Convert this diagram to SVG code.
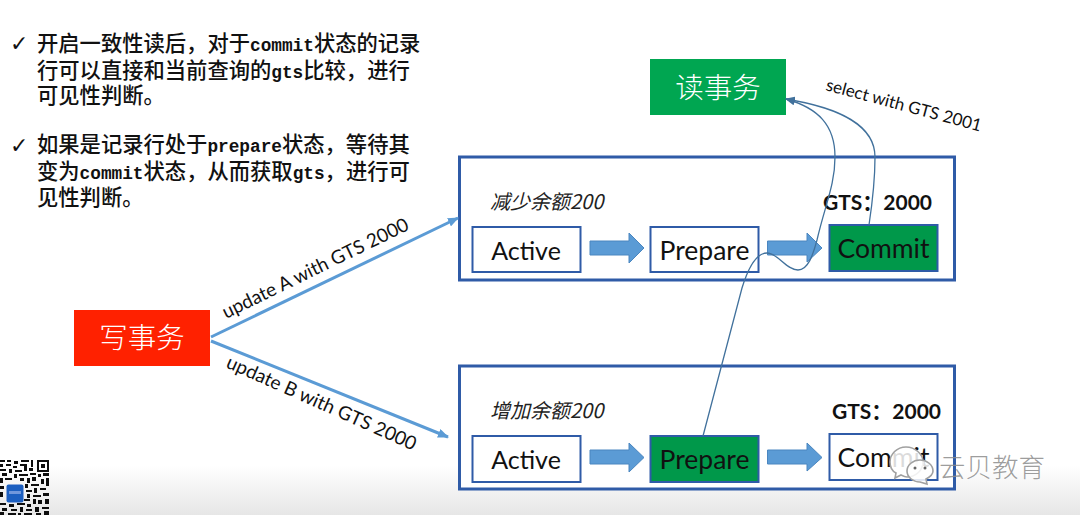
<svg xmlns="http://www.w3.org/2000/svg" width="1080" height="515" viewBox="0 0 1080 515">
<style>
.cn{font-family:"Noto Sans CJK SC",sans-serif;font-size:21.3px;font-weight:500;fill:#111}
.m{font-family:"Liberation Mono",monospace;font-size:17.75px;font-weight:700}
.big{font-family:"Noto Sans CJK SC",sans-serif;font-size:28.500px;fill:#fff;text-anchor:middle;font-weight:300}
.st{font-family:Lato,"Open Sans",sans-serif;font-size:26.5px;fill:#111;text-anchor:middle}
.lb{font-family:Lato,"Open Sans",sans-serif;font-size:19px;fill:#111}
.gts{font-family:Lato,"Noto Sans CJK SC",sans-serif;font-size:21px;font-weight:700;fill:#111}
.it{font-family:"Noto Sans CJK SC",sans-serif;font-size:20px;font-style:italic;fill:#222}
.ck{font-family:"DejaVu Sans",sans-serif;font-size:22px;fill:#111}
.frame{fill:#fff;stroke:#2f5ba7;stroke-width:3}
.box{fill:#fff;stroke:#2f5ba7;stroke-width:2}
.on{fill:#00984a;stroke:#2f5ba7;stroke-width:2}
.blk{fill:#5b9bd5;stroke:#4a86c0;stroke-width:1}
.ln{fill:none;stroke:#5b9bd5;stroke-width:3}
.thin{fill:none;stroke:#41719c;stroke-width:1.3}
.wm{fill:#fff;fill-opacity:.85;stroke:#a0a0a0;stroke-width:1.6}
</style>
<defs>
<linearGradient id="fade" x1="0" y1="0" x2="0" y2="1"><stop offset="0" stop-color="#fff"/><stop offset="1" stop-color="#e6e6e6"/></linearGradient>
<filter id="soft" x="-5%" y="-5%" width="110%" height="110%"><feGaussianBlur stdDeviation="0.5"/></filter>
<marker id="a1" markerWidth="11" markerHeight="9" refX="10" refY="4.500" orient="auto" markerUnits="userSpaceOnUse"><path d="M0 0L11 4.500L0 9Z" fill="#5b9bd5"/></marker>
<marker id="a2" markerWidth="10" markerHeight="8" refX="9" refY="4" orient="auto" markerUnits="userSpaceOnUse"><path d="M0 0L10 4L0 8Z" fill="#41719c"/></marker>
</defs>
<rect width="1080" height="515" fill="#fff"/>
<rect y="465" width="1080" height="50" fill="url(#fade)"/>

<g id="notes">
<text x="10" y="51" class="ck">✓</text>
<text x="37" y="51" class="cn">开启一致性读后，对于<tspan class="m">commit</tspan>状态的记录</text>
<text x="37" y="78" class="cn">行可以直接和当前查询的<tspan class="m">gts</tspan>比较，进行</text>
<text x="37" y="103" class="cn">可见性判断。</text>
<text x="10" y="153" class="ck">✓</text>
<text x="37" y="152" class="cn">如果是记录行处于<tspan class="m">prepare</tspan>状态，等待其</text>
<text x="37" y="179" class="cn">变为<tspan class="m">commit</tspan>状态，从而获取<tspan class="m">gts</tspan>，进行可</text>
<text x="37" y="205" class="cn">见性判断。</text>
</g>

<g id="frame-a"><rect x="459.500" y="157" width="495" height="123" class="frame"/></g>
<g id="frame-b"><rect x="459.500" y="366" width="495" height="123" class="frame"/></g>

<g id="read-tx"><rect x="650" y="59" width="136" height="56" fill="#00a651"/><text x="718" y="98" class="big">读事务</text></g>
<g id="write-tx"><rect x="74" y="310" width="136" height="56" fill="#ff2100"/><text x="142" y="348" class="big">写事务</text></g>

<g id="a-title"><text x="490" y="209" class="it">减少余额200</text><text x="823" y="210" class="gts">GTS：2000</text></g>
<g id="b-title"><text x="490" y="418" class="it">增加余额200</text><text x="832" y="419" class="gts">GTS：2000</text></g>

<g id="a-active"><rect x="472.500" y="227" width="108" height="45" class="box"/><text x="526" y="260" class="st" style="font-size:25px">Active</text></g>
<g id="a-prepare"><rect x="650.500" y="227" width="108" height="45" class="box"/><text x="704.500" y="260" class="st">Prepare</text></g>
<g id="a-commit"><rect x="829.500" y="225" width="108" height="46" class="on"/><text x="883.500" y="258" class="st">Commit</text></g>
<g id="b-active"><rect x="472.500" y="436" width="108" height="46" class="box"/><text x="526" y="469" class="st" style="font-size:25px">Active</text></g>
<g id="b-prepare"><rect x="650.500" y="436" width="108" height="46" class="on"/><text x="704.500" y="469" class="st">Prepare</text></g>
<g id="b-commit"><rect x="829.500" y="434" width="108" height="46" class="box"/><text x="883.500" y="467" class="st">Commit</text></g>

<g id="connectors">
<path class="blk" d="M590 241H629V233L644 248L629 263V255H590Z"/>
<path class="blk" d="M767.500 241H807V233L822 248L807 262V255H767.500Z"/>
<path class="blk" d="M590 450H629V443L644 457.500L629 472V464H590Z"/>
<path class="blk" d="M767.500 450H807V443L822 457.500L807 471V464H767.500Z"/>
<path class="ln" marker-end="url(#a1)" d="M211 337L458 218"/>
<path class="ln" marker-end="url(#a1)" d="M211 341L448 437"/>
<path class="thin" marker-end="url(#a2)" d="M703 436L742 288C750 262 758 253 767 253C778 253 786 270 798 270C808 270 813 255 817 240C825 205 835 185 835 157C835 125 818 108 786 99"/>
<path class="thin" marker-end="url(#a2)" d="M869 225C872 205 875 180 875 157C875 125 840 108 786 99"/>
</g>

<g id="edge-labels">
<text class="lb" transform="translate(226 319) rotate(-26)">update A with GTS 2000</text>
<text class="lb" transform="translate(225 367) rotate(24)">update B with GTS 2000</text>
<text class="lb" style="font-size:17px" transform="translate(825 90) rotate(15)">select with GTS 2001</text>
</g>

<g id="watermark">
<path class="wm" d="M906 447C897 447 890 454 890 462C890 467 892 471 896 473L895 478L901 475C903 476 905 477 907 477C916 477 923 470 923 462C923 454 915 447 906 447Z"/>
<path class="wm" d="M920 460C913 460 907 465 907 471C907 477 913 482 920 482L927 484L926 479C930 477 933 474 933 471C933 465 927 460 920 460Z"/>
<circle cx="915" cy="468" r="1.500" fill="#666"/><circle cx="925" cy="468" r="1.500" fill="#666"/>
<text x="939" y="477" font-family="Noto Sans CJK SC,sans-serif" font-size="26.500" font-weight="300" fill="#8c8c8c" fill-opacity=".85">云贝教育</text>
</g>

<g id="qr" filter="url(#soft)">
<path fill="#111" d="M0 460h5v2h-5zM7 460h4v2h-4zM14 461h4v3h-4zM21 460h8v2h-8zM31 460h2v7h-2zM0 464h3v3h-3zM6 464h5v2h-5zM13 466h4v2h-4zM20 464h7v2h-7zM24 466h3v5h-3zM29 468h4v3h-4zM0 469h6v2h-6zM9 469h3v4h-3zM15 470h7v2h-7zM2 473h5v3h-5zM14 474h3v4h-3zM19 474h9v2h-9zM30 473h6v2h-6zM38 474h3v3h-3zM43 473h6v3h-6zM0 478h3v5h-3zM5 478h7v2h-7zM20 478h4v3h-4zM27 478h3v5h-3zM32 477h4v4h-4zM41 479h3v5h-3zM46 478h3v8h-3zM25 484h3v4h-3zM31 484h8v2h-8zM0 486h4v3h-4zM26 490h6v2h-6zM34 488h3v5h-3zM40 488h6v2h-6zM0 492h3v5h-3zM27 494h3v4h-3zM33 495h8v2h-8zM43 493h6v3h-6zM24 499h6v2h-6zM33 499h3v5h-3zM38 500h4v4h-4zM45 499h4v5h-4zM0 503h6v2h-6zM9 504h5v3h-5zM17 503h8v2h-8zM27 504h4v3h-4zM2 508h5v3h-5zM11 509h6v2h-6zM20 507h3v5h-3zM26 509h6v2h-6zM35 507h4v5h-4zM42 507h7v2h-7zM0 512h4v3h-4zM8 513h8v2h-8zM18 513h3v2h-3zM24 513h8v2h-8zM36 513h5v2h-5zM44 511h5v4h-5z"/>
<path fill="#111" fill-rule="evenodd" d="M37 460h12v12h-12zM39 462v8h8v-8z"/>
<rect x="41" y="464" width="4" height="4" fill="#111"/>
<rect x="6.500" y="484.500" width="17" height="18" rx="2" fill="#1f5fc0"/>
<rect x="9" y="491" width="12" height="3" fill="#6f97dc"/>
</g>
</svg>
